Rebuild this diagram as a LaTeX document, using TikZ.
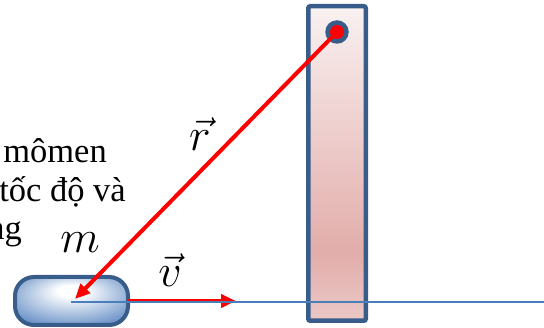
\RequirePackage{fix-cm}
\documentclass[tikz,border=0pt]{standalone}
\usepackage{fontspec}
\setmainfont{Liberation Serif}
\usetikzlibrary{arrows.meta}
\definecolor{edgeblue}{HTML}{385D8A}
\definecolor{lineblue}{HTML}{4A7EBB}
\definecolor{puckblue}{HTML}{5F8AC3}
\definecolor{rodtop}{HTML}{F9F1F1}
\definecolor{rodmid}{HTML}{E2ADAA}
\definecolor{rodbot}{HTML}{EAC8C6}
\definecolor{redvec}{HTML}{FF0000}
\pgfdeclareverticalshading{rodshade}{100bp}{color(0bp)=(rodbot); color(25bp)=(rodbot); color(36bp)=(rodmid); color(75bp)=(rodtop); color(100bp)=(rodtop)}
\pgfdeclareradialshading{puckshade}{\pgfpoint{0bp}{12bp}}{color(0bp)=(white); color(6bp)=(white); color(34bp)=(puckblue); color(50bp)=(puckblue)}
\tikzset{
  bodytext/.style={font=\fontsize{34.5}{39}\selectfont, inner sep=0pt},
  mathlabel/.style={font=\fontsize{46}{50}\selectfont, inner sep=0pt},
  vecarrow/.style={draw=redvec, line width=4.5pt, -{Triangle[length=15pt,width=13pt]}},
  axisline/.style={draw=lineblue, line width=1.6pt},
}
\begin{document}
\begin{tikzpicture}[x=1pt,y=-1pt]
\useasboundingbox (0,0) rectangle (544,328);
\clip (0,0) rectangle (544,328);
% rod
\node[draw=edgeblue, line width=4.5pt, rounded corners=2pt, shading=rodshade,
      minimum width=57.5pt, minimum height=314.5pt, inner sep=0pt] (rod) at (337,163.5) {};
% pivot
\node[circle, fill=edgeblue, minimum size=23.5pt, inner sep=0pt] (ring) at (337,32) {};
\node[circle, fill=redvec, minimum size=14pt, inner sep=0pt] (pivot) at (337,32) {};
% puck
\node[draw=edgeblue, line width=4pt, rounded corners=19pt, shading=puckshade,
      minimum width=113pt, minimum height=48pt, inner sep=0pt] (puck) at (71.5,301) {};
% vectors
\coordinate (rtip) at (75,299);
\coordinate (vstart) at (128,301);
\coordinate (vtip) at (236,301);
\coordinate (axstart) at (71,302);
\coordinate (axend) at (544,302);
\draw[vecarrow, line width=4pt] (pivot.center) -- (rtip);
\draw[vecarrow] (vstart) -- (vtip);
\draw[axisline] (axstart) -- (axend);
% labels
\node[mathlabel, anchor=base] (rlabel) at (200,151) {$\vec{r}$};
\node[mathlabel, anchor=base] (mlabel) at (80,253) {$m$};
\node[mathlabel, anchor=base] (vlabel) at (170,287) {$\vec{v}$};
% cropped text
\node[bodytext, anchor=base east] (t1) at (107,163) {mômen};
\node[bodytext, anchor=base east] (t2) at (126,202) {tốc độ và};
\node[bodytext, anchor=base east] (t3) at (22,240) {ng};
\end{tikzpicture}
\end{document}
